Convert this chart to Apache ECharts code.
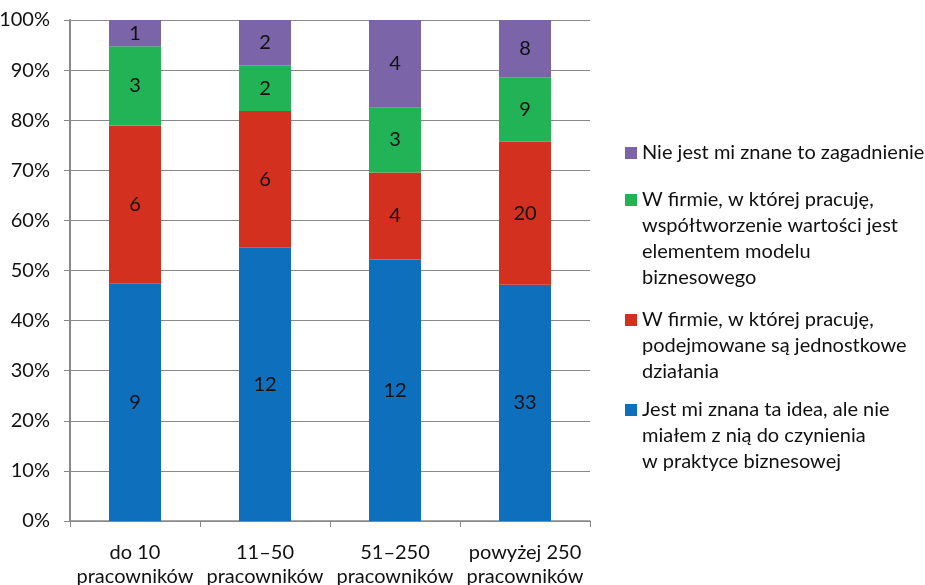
<!DOCTYPE html>
<html>
<head>
<meta charset="utf-8">
<script src="https://cdn.jsdelivr.net/npm/echarts@6/dist/echarts.min.js"></script>
<style>
html,body{margin:0;padding:0;background:#fff;}
#chart{width:925px;height:585px;}
</style>
</head>
<body>
<div id="chart"></div>
<script>
const categories = ['do 10\npracowników', '11–50\npracowników', '51–250\npracowników', 'powyżej 250\npracowników'];
const seriesNames = [
  'Jest mi znana ta idea, ale nie\nmiałem z nią do czynienia\nw praktyce biznesowej',
  'W firmie, w której pracuję,\npodejmowane są jednostkowe\ndziałania',
  'W firmie, w której pracuję,\nwspółtworzenie wartości jest\nelementem modelu\nbiznesowego',
  'Nie jest mi znane to zagadnienie'
];
const countsKnownIdea = [9, 12, 12, 33];
const countsSingleActions = [6, 6, 4, 20];
const countsCoCreation = [3, 2, 3, 9];
const countsUnknown = [1, 2, 4, 8];
const yTicks = [0, 10, 20, 30, 40, 50, 60, 70, 80, 90, 100];

const colors = ['#0E6FBD', '#D3301F', '#22B356', '#7C64A8'];
const FONT = 'Lato, "Noto Sans", sans-serif';

const allCounts = [countsKnownIdea, countsSingleActions, countsCoCreation, countsUnknown];
const totals = categories.map((_, i) => allCounts.reduce((s, arr) => s + arr[i], 0));

const series = allCounts.map((arr, si) => ({
  name: seriesNames[si],
  type: 'bar',
  stack: 'total',
  barWidth: 52,
  itemStyle: { color: colors[si] },
  label: {
    show: true,
    position: 'inside',
    color: '#111',
    fontFamily: FONT,
    fontSize: 20,
    formatter: p => String(arr[p.dataIndex])
  },
  emphasis: { disabled: true },
  data: arr.map((v, i) => v / totals[i] * 100)
}));

// legend: one component per item; icon box spans whole text so square sits at first line
const LH = 26;
const legendOrder = [3, 2, 1, 0];
const firstLineY = [153, 200, 320, 410];
const legends = legendOrder.map((si, k) => {
  const n = seriesNames[si].split('\n').length;
  const H = n * LH;
  const icon = 'path://M0,0L0.01,0L0,0.01ZM0,7L12,7L12,19L0,19ZM0,' + H + 'L0.01,' + H + 'L0,' + (H - 0.01) + 'Z';
  return {
    data: [seriesNames[si]],
    orient: 'vertical',
    left: 625,
    top: firstLineY[k] - LH / 2,
    padding: 0,
    itemWidth: 12,
    itemHeight: H,
    itemGap: 0,
    icon: icon,
    selectedMode: false,
    textStyle: {
      fontFamily: FONT,
      fontSize: 20,
      color: '#111',
      lineHeight: LH
    }
  };
});

const chart = echarts.init(document.getElementById('chart'), null, { renderer: 'canvas' });
chart.setOption({
  animation: false,
  backgroundColor: '#fff',
  grid: { left: 70, right: 335, top: 20, bottom: 64, containLabel: false, outerBoundsMode: 'none' },
  legend: legends,
  xAxis: {
    type: 'category',
    data: categories,
    axisLine: { lineStyle: { color: '#888', width: 1.5 } },
    axisTick: { show: true, length: 6, lineStyle: { color: '#888' } },
    axisLabel: {
      interval: 0,
      fontFamily: FONT, fontSize: 20, color: '#111', lineHeight: 24, margin: 20
    }
  },
  yAxis: {
    type: 'value',
    min: yTicks[0],
    max: yTicks[yTicks.length - 1],
    interval: 10,
    axisLine: { show: true, lineStyle: { color: '#888', width: 2 } },
    axisTick: { show: true, length: 6, lineStyle: { color: '#888' } },
    splitLine: { show: true, lineStyle: { color: '#888', width: 1 } },
    axisLabel: {
      fontFamily: FONT, fontSize: 20, color: '#111', margin: 20,
      formatter: '{value}%'
    }
  },
  series: series
});
</script>
</body>
</html>
